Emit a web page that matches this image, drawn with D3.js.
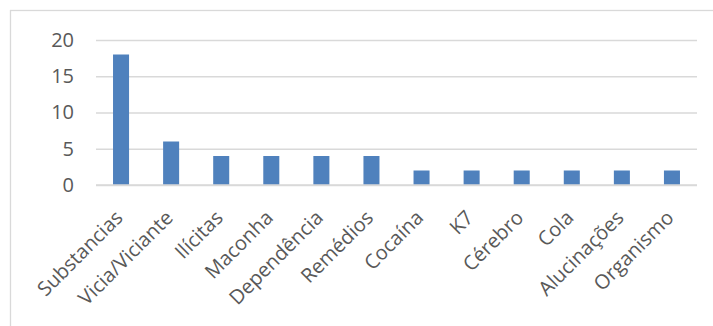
<!DOCTYPE html>
<html>
<head>
<meta charset="utf-8">
<script src="https://cdn.jsdelivr.net/npm/d3@7"></script>
<style>
  html, body { margin: 0; padding: 0; background: #fff; }
  svg { display: block; }
  text { font-family: "Open Sans", Lato, sans-serif; fill: #595959; }
</style>
</head>
<body>
<svg id="chart" width="713" height="326"></svg>
<script>
// Word frequencies
const categories = ["Substancias", "Vicia/Viciante", "Ilícitas", "Maconha", "Dependência",
  "Remédios", "Cocaína", "K7", "Cérebro", "Cola", "Alucinações", "Organismo"];
const counts = [18, 6, 4, 4, 4, 4, 2, 2, 2, 2, 2, 2];
const yTicks = [0, 5, 10, 15, 20];

const svg = d3.select("#chart");
const W = 713, H = 326;
const plot = { left: 96, right: 697, top: 40, bottom: 185 };
const FONT = "'Open Sans', Lato, sans-serif";

// chart-area frame
svg.append("rect")
  .attr("x", 10.5).attr("y", 10.5)
  .attr("width", W + 10).attr("height", H + 10)
  .attr("fill", "none").attr("stroke", "#d9d9d9").attr("stroke-width", 1.3);

const x = d3.scaleBand()
  .domain(categories)
  .range([plot.left, plot.right])
  .paddingInner(0.68).paddingOuter(0.34);

const y = d3.scaleLinear().domain([0, 20]).range([plot.bottom, plot.top]);

// gridlines + y labels
const yAxis = d3.axisLeft(y).tickValues(yTicks).tickSize(-(plot.right - plot.left)).tickPadding(22);
const gy = svg.append("g").attr("transform", `translate(${plot.left},0)`).call(yAxis);
gy.select(".domain").remove();
gy.selectAll(".tick line").attr("stroke", "#d9d9d9").attr("stroke-width", 1.3);
gy.selectAll(".tick text").attr("font-size", 20).attr("fill", "#595959")
  .style("font-family", FONT);

// bars
svg.append("g").selectAll("rect")
  .data(counts)
  .join("rect")
  .attr("x", (d, i) => x(categories[i]))
  .attr("y", d => y(d))
  .attr("width", x.bandwidth())
  .attr("height", d => y(0) - y(d))
  .attr("fill", "#4f81bd");

// category axis
const xAxis = d3.axisBottom(x).tickSize(0).tickPadding(0);
const gx = svg.append("g").attr("transform", `translate(0,${plot.bottom})`).call(xAxis);
gx.select(".domain").attr("stroke", "#d9d9d9").attr("stroke-width", 1.3)
  .attr("d", `M${plot.left},0H${plot.right}`);
gx.selectAll(".tick text")
  .attr("font-size", 20)
  .attr("fill", "#595959")
  .style("font-family", FONT)
  .attr("text-anchor", "end")
  .attr("dy", 0)
  .attr("transform", "translate(3,34) rotate(-45)");
</script>
</body>
</html>
